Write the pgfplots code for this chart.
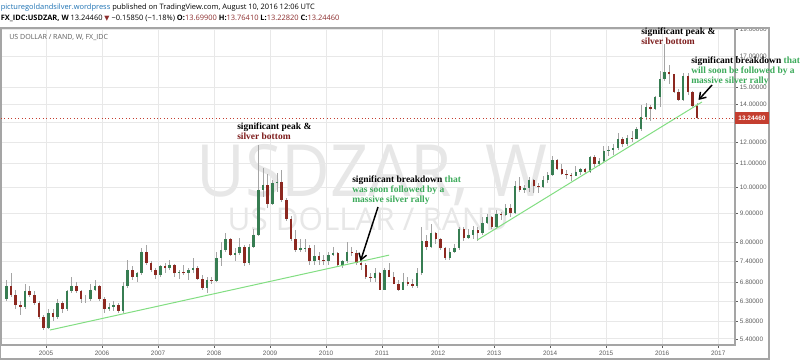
\documentclass[border=0pt]{standalone}
\usepackage{pgfplots}
\pgfplotsset{compat=1.18}
\usepackage{pgfplotstable}
\usepackage{fontspec}
\setmainfont{Liberation Sans}
\newfontfamily\hdr{Open Sans}
\newfontfamily\tms{Liberation Serif}
\newfontfamily\dv{DejaVu Sans}
\usetikzlibrary{arrows.meta}

\definecolor{upc}{RGB}{55,125,82}
\definecolor{dnc}{RGB}{140,40,32}
\definecolor{wick}{RGB}{165,165,165}
\definecolor{gridc}{RGB}{232,232,232}
\definecolor{framec}{RGB}{165,165,165}
\definecolor{trend}{RGB}{130,222,130}
\definecolor{lastred}{RGB}{196,62,48}
\definecolor{darkred}{RGB}{125,28,28}
\definecolor{anngreen}{RGB}{60,170,90}
\definecolor{linkblue}{RGB}{30,115,180}
\definecolor{valred}{RGB}{140,45,45}
\definecolor{wm}{RGB}{231,231,231}
\definecolor{tickc}{RGB}{95,95,95}

\pgfplotstableread{
yr mo o h l c
2004 4 6.35 6.85 6.30 6.70
2004 5 6.70 7.05 6.40 6.45
2004 6 6.45 6.60 6.10 6.20
2004 7 6.20 6.30 5.95 6.15
2004 8 6.15 6.75 6.10 6.55
2004 9 6.55 6.70 6.40 6.45
2004 10 6.45 6.55 6.20 6.25
2004 11 6.25 6.30 5.85 5.90
2004 12 5.90 5.95 5.60 5.65
2005 1 5.65 6.10 5.63 6.00
2005 2 6.00 6.10 5.80 5.90
2005 3 5.90 6.35 5.85 6.25
2005 4 6.25 6.30 6.00 6.10
2005 5 6.10 6.60 6.05 6.55
2005 6 6.55 6.95 6.50 6.70
2005 7 6.70 6.80 6.50 6.55
2005 8 6.55 6.60 6.25 6.35
2005 9 6.35 6.45 6.25 6.35
2005 10 6.35 6.75 6.30 6.60
2005 11 6.60 6.85 6.55 6.70
2005 12 6.70 6.72 6.30 6.35
2006 1 6.35 6.40 6.00 6.10
2006 2 6.10 6.25 6.05 6.15
2006 3 6.15 6.30 6.05 6.20
2006 4 6.20 6.25 6.00 6.05
2006 5 6.05 6.80 6.00 6.70
2006 6 6.70 7.45 6.65 7.15
2006 7 7.15 7.25 6.85 6.95
2006 8 6.95 7.10 6.80 7.05
2006 9 7.05 7.80 7.00 7.70
2006 10 7.70 7.90 7.30 7.35
2006 11 7.35 7.40 7.10 7.15
2006 12 7.15 7.20 6.90 7.00
2007 1 7.00 7.30 6.95 7.25
2007 2 7.25 7.35 7.05 7.20
2007 3 7.20 7.45 7.15 7.30
2007 4 7.30 7.32 6.95 7.05
2007 5 7.05 7.15 6.90 7.10
2007 6 7.10 7.30 7.00 7.05
2007 7 7.05 7.20 6.85 7.15
2007 8 7.15 7.50 7.05 7.20
2007 9 7.20 7.25 6.85 6.90
2007 10 6.90 7.00 6.60 6.65
2007 11 6.65 6.95 6.50 6.85
2007 12 6.85 6.95 6.75 6.82
2008 1 6.82 7.70 6.80 7.50
2008 2 7.50 8.00 7.25 7.75
2008 3 7.75 8.30 7.70 8.10
2008 4 8.10 8.15 7.55 7.60
2008 5 7.60 7.80 7.40 7.65
2008 6 7.65 8.15 7.60 7.85
2008 7 7.85 7.90 7.25 7.35
2008 8 7.35 7.95 7.30 7.85
2008 9 7.85 8.45 7.80 8.25
2008 10 8.25 11.85 8.20 9.90
2008 11 9.90 10.80 9.60 10.10
2008 12 10.10 10.55 9.20 9.35
2009 1 9.35 10.30 9.30 10.15
2009 2 10.15 10.60 9.80 10.20
2009 3 10.20 10.70 9.40 9.50
2009 4 9.50 9.55 8.70 8.80
2009 5 8.80 8.90 8.05 8.10
2009 6 8.10 8.40 7.70 7.75
2009 7 7.75 8.10 7.70 7.80
2009 8 7.80 8.10 7.70 7.82
2009 9 7.82 7.90 7.30 7.40
2009 10 7.40 7.90 7.30 7.55
2009 11 7.55 7.70 7.30 7.45
2009 12 7.45 7.60 7.30 7.40
2010 1 7.40 7.70 7.30 7.60
2010 2 7.60 7.85 7.55 7.65
2010 3 7.65 7.70 7.25 7.30
2010 4 7.30 7.45 7.20 7.40
2010 5 7.40 8.00 7.35 7.70
2010 6 7.70 7.85 7.55 7.65
2010 7 7.65 7.75 7.30 7.35
2010 8 7.35 7.45 7.15 7.30
2010 9 7.30 7.35 6.90 6.95
2010 10 6.95 7.05 6.80 6.92
2010 11 6.92 7.20 6.80 7.05
2010 12 7.05 7.10 6.60 6.60
2011 1 6.60 7.20 6.60 7.15
2011 2 7.15 7.35 6.95 6.95
2011 3 6.95 7.10 6.75 6.75
2011 4 6.75 6.85 6.55 6.60
2011 5 6.60 7.05 6.60 6.80
2011 6 6.80 6.95 6.70 6.75
2011 7 6.75 6.90 6.65 6.70
2011 8 6.70 7.20 6.65 7.05
2011 9 7.05 8.50 7.00 8.05
2011 10 8.05 8.25 7.75 7.85
2011 11 7.85 8.60 7.80 8.30
2011 12 8.30 8.35 7.95 8.10
2012 1 8.10 8.15 7.75 7.80
2012 2 7.80 7.85 7.45 7.50
2012 3 7.50 7.80 7.45 7.70
2012 4 7.70 7.95 7.65 7.80
2012 5 7.80 8.50 7.75 8.45
2012 6 8.45 8.50 8.05 8.15
2012 7 8.15 8.45 8.10 8.25
2012 8 8.25 8.55 8.10 8.40
2012 9 8.40 8.50 8.05 8.30
2012 10 8.30 8.85 8.25 8.65
2012 11 8.65 8.95 8.60 8.85
2012 12 8.85 8.90 8.45 8.50
2013 1 8.50 9.10 8.45 8.95
2013 2 8.95 9.05 8.75 8.92
2013 3 8.92 9.35 8.90 9.20
2013 4 9.20 9.35 8.85 9.00
2013 5 9.00 10.25 8.95 10.05
2013 6 10.05 10.40 9.80 9.90
2013 7 9.90 10.10 9.75 9.95
2013 8 9.95 10.40 9.80 10.30
2013 9 10.30 10.35 9.75 10.05
2013 10 10.05 10.15 9.75 10.00
2013 11 10.00 10.45 9.95 10.30
2013 12 10.30 10.65 10.15 10.50
2014 1 10.50 11.35 10.45 11.15
2014 2 11.15 11.20 10.70 10.75
2014 3 10.75 11.00 10.50 10.55
2014 4 10.55 10.70 10.35 10.50
2014 5 10.50 10.60 10.25 10.45
2014 6 10.45 10.90 10.45 10.65
2014 7 10.65 10.80 10.50 10.75
2014 8 10.75 10.80 10.55 10.65
2014 9 10.65 11.35 10.60 11.30
2014 10 11.30 11.40 10.85 11.00
2014 11 11.00 11.25 10.90 11.10
2014 12 11.10 11.80 11.05 11.60
2015 1 11.60 11.80 11.35 11.65
2015 2 11.65 11.90 11.40 11.70
2015 3 11.70 12.45 11.65 12.15
2015 4 12.15 12.25 11.75 11.90
2015 5 11.90 12.35 11.80 12.20
2015 6 12.20 12.55 12.00 12.18
2015 7 12.18 12.75 12.15 12.65
2015 8 12.65 13.95 12.55 13.30
2015 9 13.30 14.05 13.15 13.85
2015 10 13.85 13.95 13.10 13.75
2015 11 13.75 14.45 13.70 14.40
2015 12 14.40 16.05 13.85 15.50
2016 1 15.50 17.90 15.40 15.95
2016 2 15.95 16.45 15.20 15.80
2016 3 15.80 15.85 14.65 14.70
2016 4 14.70 14.90 14.20 14.25
2016 5 14.25 15.90 14.20 15.70
2016 6 15.70 15.90 14.55 14.70
2016 7 14.70 14.75 13.85 13.90
2016 8 13.90 14.05 13.22 13.24
}\pricedata

\begin{document}
\begin{tikzpicture}
\useasboundingbox (0,0) rectangle (600pt,272.25pt);
\fill[white] (0,0) rectangle (600pt,272.25pt);
% ---------- background texts (pixel coordinates) ----------
\begin{scope}[x=0.75pt,y=-0.75pt,shift={(0pt,272.25pt)}]
  \node[anchor=base,inner sep=0pt,text=wm,xscale=0.93] at (372,197)
    {\hdr\fontsize{54}{54}\selectfont USDZAR, W};
  \node[anchor=base,inner sep=0pt,text=wm] at (368,231)
    {\hdr\fontsize{23.5}{24}\selectfont US DOLLAR / RAND};
\end{scope}

\begin{axis}[
  at={(0.75pt,13.5pt)}, anchor=south west,
  scale only axis, width=550.5pt, height=237.75pt,
  xmin=2004.196, xmax=2017.30,
  ymode=log, ymin=5.27, ymax=19.08,
  axis line style={draw=framec, line width=0.8pt},
  grid=major, major grid style={draw=gridc, line width=0.75pt},
  tick style={draw=tickc, line width=0.4pt},
  tick align=outside, major tick length=2pt,
  xtick={2005,2006,2007,2008,2009,2010,2011,2012,2013,2014,2015,2016,2017},
  xticklabels={2005,2006,2007,2008,2009,2010,2011,2012,2013,2014,2015,2016,2017},
  xtick pos=bottom,
  ytick={5.4,5.8,6.3,6.8,7.4,8,9,10,11,12,13,14,15,17,19},
  yticklabels={5.40000,5.80000,6.30000,6.80000,7.40000,8.00000,9.00000,10.00000,11.00000,12.00000,13.00000,14.00000,15.00000,17.00000,19.00000},
  ytick pos=right,
  yticklabel pos=right,
  minor tick num=0,
  ticklabel style={font=\fontsize{4.8}{5}\selectfont, text=tickc, inner sep=0pt},
  yticklabel style={anchor=west, xshift=1.5pt},
  xticklabel style={anchor=north, yshift=-2.2pt},
  clip=true,
]
% wicks
\addplot[draw=none, mark=none, forget plot,
  error bars/.cd, y dir=both, y explicit, error mark=none,
  error bar style={line width=0.5pt, draw=wick}]
  table[x expr={\thisrow{yr}+(\thisrow{mo}-0.5)/12}, y=c,
        y error plus expr={\thisrow{h}-\thisrow{c}},
        y error minus expr={\thisrow{c}-\thisrow{l}}] {\pricedata};
% up bodies
\addplot[draw=none, mark=none, forget plot, unbounded coords=discard,
  x filter/.expression={\thisrow{c}>=\thisrow{o} ? x : nan},
  error bars/.cd, y dir=both, y explicit, error mark=none,
  error bar style={line width=1.9pt, draw=upc}]
  table[x expr={\thisrow{yr}+(\thisrow{mo}-0.5)/12}, y=c,
        y error plus expr={max(\thisrow{o}-\thisrow{c},0)},
        y error minus expr={max(\thisrow{c}-\thisrow{o},0)}] {\pricedata};
% down bodies
\addplot[draw=none, mark=none, forget plot, unbounded coords=discard,
  x filter/.expression={\thisrow{c}<\thisrow{o} ? x : nan},
  error bars/.cd, y dir=both, y explicit, error mark=none,
  error bar style={line width=1.9pt, draw=dnc}]
  table[x expr={\thisrow{yr}+(\thisrow{mo}-0.5)/12}, y=c,
        y error plus expr={max(\thisrow{o}-\thisrow{c},0)},
        y error minus expr={max(\thisrow{c}-\thisrow{o},0)}] {\pricedata};
% trend lines
\addplot[trend, line width=0.75pt, mark=none] coordinates {(2005.07,5.60) (2011.125,7.59)};
\addplot[trend, line width=0.75pt, mark=none] coordinates {(2012.70,8.07) (2016.71,14.13)};
% last price line
\addplot[lastred, dotted, line width=0.6pt, mark=none] coordinates {(2004.196,13.2446) (2017.30,13.2446)};
\end{axis}

\begin{scope}[x=0.75pt,y=-0.75pt,shift={(0pt,272.25pt)}]
  % hide top of 19.00000 label above frame
  \fill[white] (736,0) rectangle (800,27.6);
  % outer frame
  \draw[framec, line width=1pt] (0.5,28) rectangle (769,359);
  % price label
  \fill[lastred] (735.4,112) rectangle (768.5,124);
  \node[text=white, inner sep=0pt, font=\bfseries\fontsize{4.9}{5}\selectfont] at (752,118.2) {13.24460};
  % header
  \node[anchor=base west, inner sep=0pt] at (0.5,9.6)
    {\hdr\fontsize{5.6}{6}\selectfont\textcolor{linkblue}{picturegoldandsilver.wordpress} published on TradingView.com, August 10, 2016 12:06 UTC};
  \node[anchor=base west, inner sep=0pt] at (0.5,20.3)
    {\hdr\fontsize{5.6}{6}\selectfont{\bfseries FX\_IDC:USDZAR, W} 13.24460 {\dv\fontsize{5}{6}\selectfont\textcolor{valred}{▼}} −0.15850 (−1.18\%) {\bfseries O:}\textcolor{valred}{13.69900} {\bfseries H:}\textcolor{valred}{13.76410} {\bfseries L:}\textcolor{valred}{13.22820} {\bfseries C:}\textcolor{valred}{13.24460}};
  \node[anchor=base west, inner sep=0pt, text=tickc] at (9,39.3)
    {\hdr\fontsize{5.3}{6}\selectfont US DOLLAR / RAND, W, FX\_IDC};
  % annotations
  \begin{scope}[every node/.style={anchor=base west, inner sep=0pt, font=\tms\bfseries\fontsize{7.1}{7.6}\selectfont}]
    \node at (237,130) {significant peak \&};
    \node[text=darkred] at (237,140) {silver bottom};
    \node at (352,183) {significant breakdown \textcolor{anngreen}{that}};
    \node[text=anngreen] at (352,193) {was soon followed by a};
    \node[text=anngreen] at (352,203) {massive silver rally};
    \node at (641,35) {significant peak \&};
    \node[text=darkred] at (641,45) {silver bottom};
    \node at (691,64) {significant breakdown \textcolor{anngreen}{that}};
    \node[text=anngreen] at (691,74) {will soon be followed by a};
    \node[text=anngreen] at (691,84) {massive silver rally};
  \end{scope}
  \draw[black, line width=1.1pt, -{Straight Barb[length=4.5pt,width=6pt]}] (378,207) -- (360.5,261);
  \draw[black, line width=1.1pt, -{Straight Barb[length=4.5pt,width=6pt]}] (712,85) -- (698.5,100);
\end{scope}
\end{tikzpicture}
\end{document}
